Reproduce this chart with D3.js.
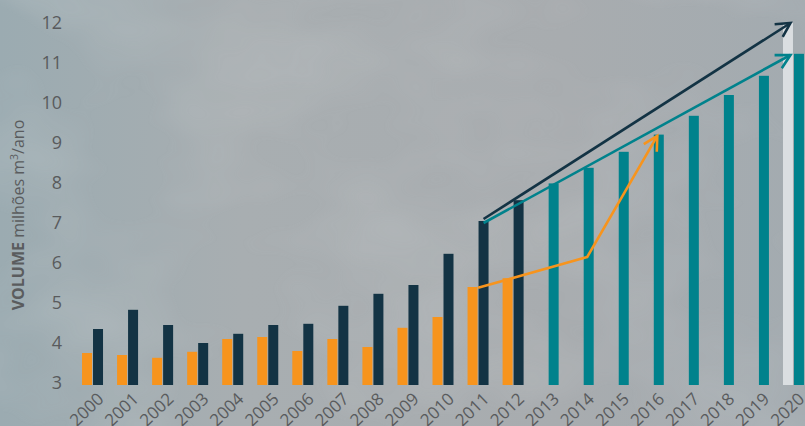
<!DOCTYPE html>
<html>
<head>
<meta charset="utf-8">
<script src="https://cdn.jsdelivr.net/npm/d3@7/dist/d3.min.js"></script>
<style>
  body { margin: 0; overflow: hidden; }
  svg { display: block; }
</style>
</head>
<body>
<div id="chart"></div>
<script>
// categories
const years = ["2000","2001","2002","2003","2004","2005","2006","2007","2008","2009",
               "2010","2011","2012","2013","2014","2015","2016","2017","2018","2019","2020"];
const histYears = years.slice(0, 13);   // 2000-2012, two bars
const projYears = years.slice(13);      // 2013-2020, teal bars

// series values (milhões m3/ano)
const orangeVals = [3.75, 3.70, 3.63, 3.78, 4.10, 4.15, 3.80, 4.10, 3.90, 4.38, 4.65, 5.40, 5.62];
const navyVals   = [4.35, 4.83, 4.45, 4.00, 4.23, 4.45, 4.48, 4.93, 5.23, 5.45, 6.23, 7.05, 7.57];
const tealVals   = [7.99, 8.38, 8.78, 9.21, 9.68, 10.20, 10.68, 11.23];
const targetYear = "2020", targetVal = 12;

// arrow lines [year, value]
const navyArrow   = [["2011", 7.1], ["2020", 12.0]];
const tealArrow   = [["2011", 7.0], ["2020", 11.2]];
const orangeArrow = [["2011", 5.38], ["2014", 6.15], ["2016", 9.18]];

const yTicks = [3, 4, 5, 6, 7, 8, 9, 10, 11, 12];

const width = 805, height = 426;
const orange = "#f7941d", navy = "#133344", teal = "#00828c";

const svg = d3.select("#chart").append("svg")
    .attr("width", width)
    .attr("height", height);

const defs = svg.append("defs");

// cloudy background
const bg = defs.append("linearGradient").attr("id", "bg")
    .attr("x1", 0).attr("y1", 0).attr("x2", 1).attr("y2", 0);
bg.append("stop").attr("offset", "0%").attr("stop-color", "#9babb1");
bg.append("stop").attr("offset", "30%").attr("stop-color", "#a8aeb1");
bg.append("stop").attr("offset", "70%").attr("stop-color", "#a8acaf");
bg.append("stop").attr("offset", "100%").attr("stop-color", "#a3abb0");

const cloud = defs.append("filter").attr("id", "cloud")
    .attr("x", 0).attr("y", 0).attr("width", "100%").attr("height", "100%");
cloud.append("feTurbulence").attr("type", "fractalNoise")
    .attr("baseFrequency", "0.006 0.01").attr("numOctaves", 3).attr("seed", 7);
cloud.append("feColorMatrix").attr("type", "matrix")
    .attr("values", "0 0 0 0 0.78  0 0 0 0 0.79  0 0 0 0 0.80  0 0 0 0.55 -0.22");

svg.append("rect").attr("width", width).attr("height", height).attr("fill", "url(#bg)");
svg.append("rect").attr("width", width).attr("height", height)
    .attr("filter", "url(#cloud)").attr("opacity", 0.6);

// scales
const x = d3.scaleBand().domain(years).range([75, 811]);
const y = d3.scaleLinear().domain([3, 12]).range([383, 23]);
const barW = 10;
const base = y(3) + 2;
const cx = d => x(d) + x.bandwidth() / 2;

// y axis labels
svg.append("g").selectAll("text").data(yTicks).join("text")
    .attr("x", 62)
    .attr("y", d => y(d))
    .attr("dy", "0.35em")
    .attr("text-anchor", "end")
    .attr("font-family", "'Open Sans', sans-serif")
    .attr("font-size", 18)
    .attr("fill", "#595b5d")
    .text(d => d);

// y title
const title = svg.append("text")
    .attr("transform", "translate(24,215) rotate(-90)")
    .attr("text-anchor", "middle")
    .attr("font-family", "'Open Sans', sans-serif")
    .attr("font-size", 16)
    .attr("fill", "#5a5c5e");
title.append("tspan").attr("font-weight", "bold").text("VOLUME");
title.append("tspan").text(" milhões m");
title.append("tspan").attr("font-size", 10.5).attr("dy", -6).text("3");
title.append("tspan").attr("dy", 6).text("/ano");

// x axis labels
svg.append("g").selectAll("text").data(years).join("text")
    .attr("transform", d => `translate(${cx(d) + 8},396) rotate(-44)`)
    .attr("text-anchor", "end")
    .attr("dy", "0.35em")
    .attr("font-family", "'Open Sans', sans-serif")
    .attr("font-size", 17)
    .attr("fill", "#595b5d")
    .text(d => d);

// bars
const bars = svg.append("g");
bars.selectAll(".orange").data(histYears).join("rect")
    .attr("class", "orange")
    .attr("x", d => cx(d) - barW - 0.5)
    .attr("y", (d, i) => y(orangeVals[i]))
    .attr("width", barW)
    .attr("height", (d, i) => base - y(orangeVals[i]))
    .attr("fill", orange);
bars.selectAll(".navy").data(histYears).join("rect")
    .attr("class", "navy")
    .attr("x", d => cx(d) + 0.5)
    .attr("y", (d, i) => y(navyVals[i]))
    .attr("width", barW)
    .attr("height", (d, i) => base - y(navyVals[i]))
    .attr("fill", navy);
bars.append("rect")
    .attr("x", cx(targetYear) - barW - 0.5)
    .attr("y", y(targetVal))
    .attr("width", barW)
    .attr("height", base - y(targetVal))
    .attr("fill", "#dadee1");
bars.selectAll(".teal").data(projYears).join("rect")
    .attr("class", "teal")
    .attr("x", d => cx(d) + 0.5)
    .attr("y", (d, i) => y(tealVals[i]))
    .attr("width", barW)
    .attr("height", (d, i) => base - y(tealVals[i]))
    .attr("fill", teal);

// arrows
function marker(id, color) {
    defs.append("marker").attr("id", id)
        .attr("viewBox", "-18 -10 22 20")
        .attr("refX", 0).attr("refY", 0)
        .attr("markerWidth", 22).attr("markerHeight", 20)
        .attr("markerUnits", "userSpaceOnUse")
        .attr("orient", "auto")
      .append("path")
        .attr("d", "M-14,-7.5 L0,0 L-14,7.5")
        .attr("fill", "none")
        .attr("stroke", color)
        .attr("stroke-width", 2.6)
        .attr("stroke-linejoin", "miter");
}
marker("mNavy", navy);
marker("mTeal", teal);
marker("mOrange", orange);

const line = d3.line()
    .x((d, i) => i === 0 ? cx(d[0]) + 5.5 : cx(d[0]) - 3)
    .y(d => y(d[1]));

const orangeLine = d3.line()
    .x((d, i) => cx(d[0]) + (i === 0 ? 0 : 4))
    .y(d => y(d[1]));

svg.append("path").datum(navyArrow)
    .attr("d", line).attr("fill", "none")
    .attr("stroke", navy).attr("stroke-width", 2.6)
    .attr("marker-end", "url(#mNavy)");
svg.append("path").datum(tealArrow)
    .attr("d", line).attr("fill", "none")
    .attr("stroke", teal).attr("stroke-width", 2.6)
    .attr("marker-end", "url(#mTeal)");
svg.append("path").datum(orangeArrow)
    .attr("d", orangeLine).attr("fill", "none")
    .attr("stroke", orange).attr("stroke-width", 2.6)
    .attr("stroke-linejoin", "round")
    .attr("marker-end", "url(#mOrange)");
</script>
</body>
</html>
